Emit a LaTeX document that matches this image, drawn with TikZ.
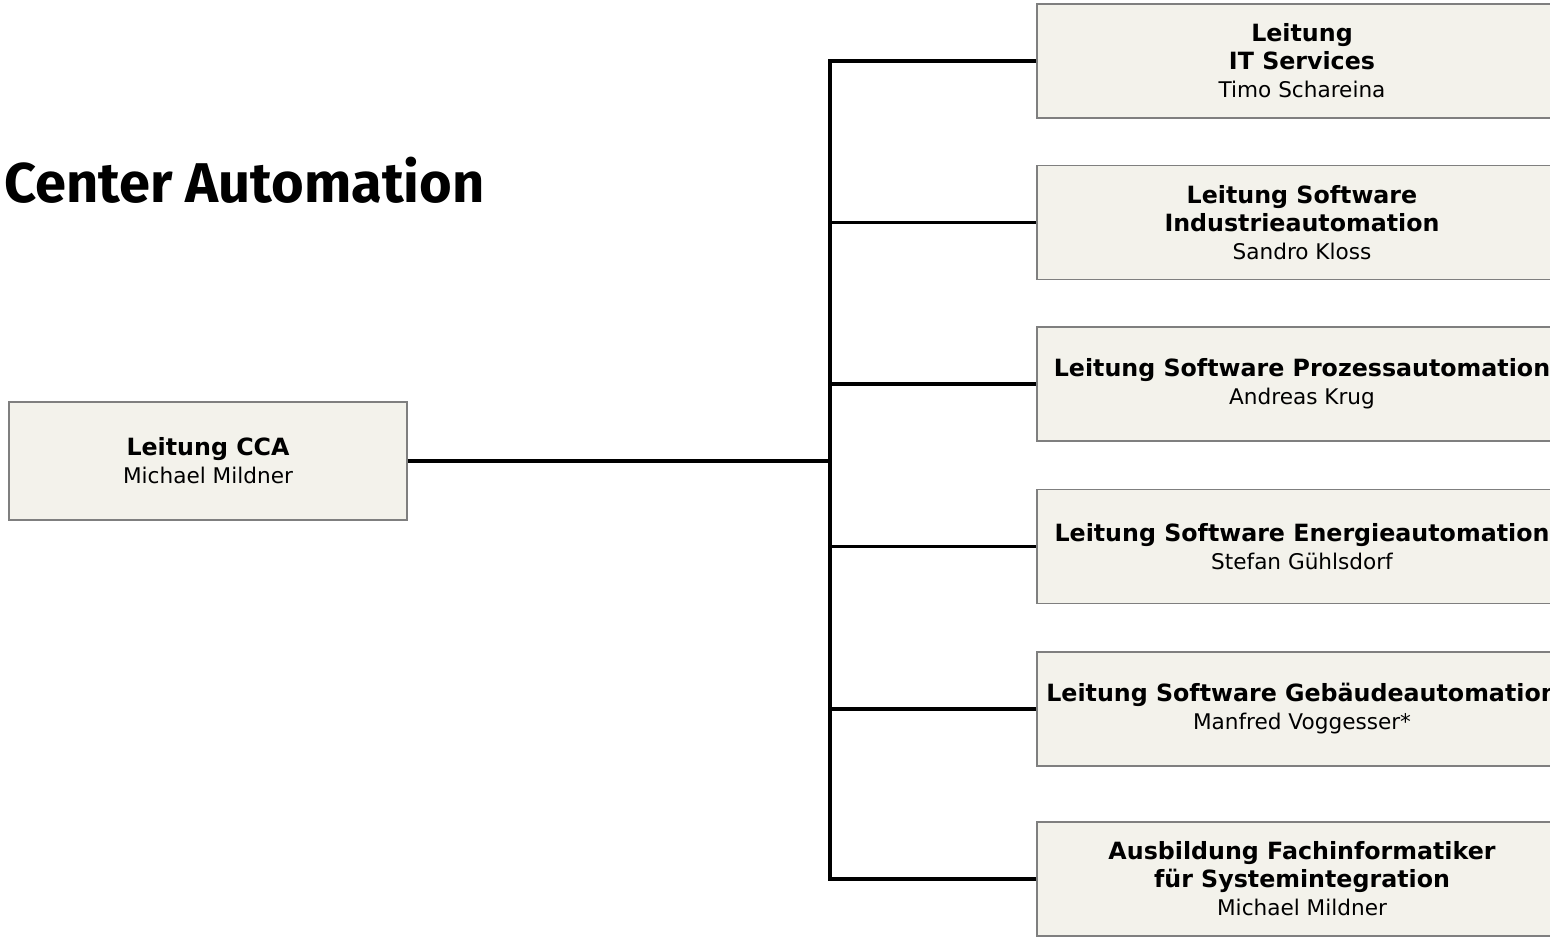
\documentclass[tikz,border=0pt]{standalone}
\usepackage{fontspec}
\setmainfont{DejaVu Sans}
\newfontfamily\titlefont{Fira Sans}
\usetikzlibrary{positioning}
\definecolor{boxfill}{HTML}{F3F2EB}
\definecolor{boxline}{HTML}{7F7F7F}
\newcommand{\role}[1]{{\bfseries\fontsize{17.8}{21}\selectfont #1}}

\begin{document}
\begin{tikzpicture}[
						x=0.75pt, y=-0.75pt,
						unit/.style = {draw=boxline, fill=boxfill, rectangle, line width=0.9pt, align=center, font=\fontsize{16.2}{21}\selectfont},
						head/.style = {unit, minimum width=298.5pt, minimum height=88.5pt},
						dept/.style = {unit, minimum width=397.5pt, minimum height=85.5pt},
						wire/.style = {line width=2.5pt}
					]
\useasboundingbox (0,0) rectangle (1550,937);
\node[anchor=base west, inner sep=0pt, font=\titlefont\bfseries\fontsize{42}{50}\selectfont] (title) at (4,203) {Center Automation};

\node[head] (cca) at (208,461) {\role{Leitung CCA}\\Michael Mildner};

\node[dept] (its) at (1302,61) {\role{Leitung}\\\role{IT Services}\\Timo Schareina};
\node[dept] (ind) at (1302,222.5) {\role{Leitung Software}\\\role{Industrieautomation}\\Sandro Kloss};
\node[dept] (pro) at (1302,384) {\role{Leitung Software Prozessautomation}\\Andreas Krug};
\node[dept] (ene) at (1302,546.5) {\role{Leitung Software Energieautomation}\\Stefan Gühlsdorf};
\node[dept] (geb) at (1302,709) {\role{Leitung Software Gebäudeautomation}\\Manfred Voggesser*};
\node[dept] (fis) at (1302,879) {\role{Ausbildung Fachinformatiker}\\\role{für Systemintegration}\\Michael Mildner};

\coordinate (hub) at (830,461);
\coordinate (top) at (830,61);
\coordinate (bot) at (830,879);

\draw[wire] (cca.east) -- (hub);
\draw[wire] (its.west) -- (top) -- (bot) -- (fis.west);
\draw[wire] (hub |- ind.west) -- (ind.west);
\draw[wire] (hub |- pro.west) -- (pro.west);
\draw[wire] (hub |- ene.west) -- (ene.west);
\draw[wire] (hub |- geb.west) -- (geb.west);
\end{tikzpicture}
\end{document}
